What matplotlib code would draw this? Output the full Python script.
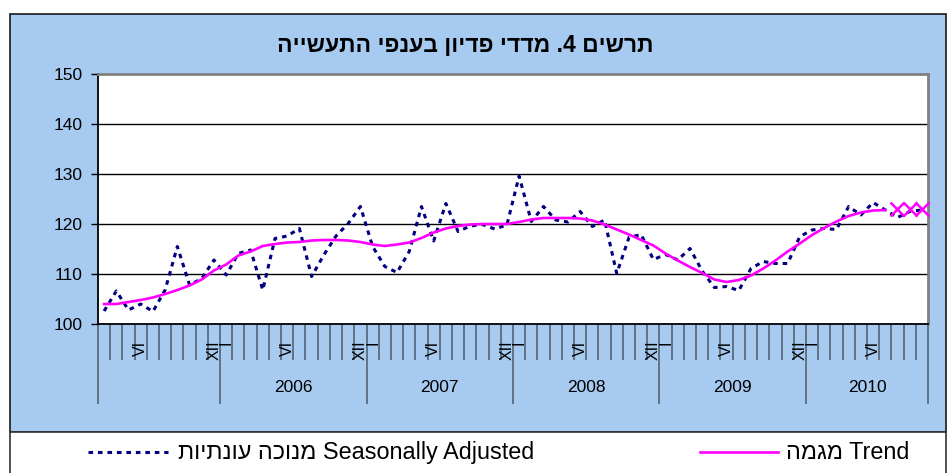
import matplotlib
matplotlib.use('Agg')
import matplotlib.pyplot as plt
import matplotlib.transforms as mtransforms
from matplotlib.lines import Line2D
from matplotlib.patches import Rectangle

plt.rcParams['font.family'] = ['Liberation Sans', 'DejaVu Sans']

# ---- data (monthly, Mar 2005 .. Oct 2010) ----
start_year, start_month = 2005, 3
sa_values = [102.6, 106.6, 102.8, 104.0, 102.5, 106.8, 115.5, 107.8, 109.1, 112.8,
             109.8, 114.1, 114.8, 106.8, 117.1, 117.6, 119.1, 109.5, 113.8, 117.6,
             120.1, 123.5, 115.5, 111.5, 110.3, 114.5, 123.5, 116.6, 124.1, 118.5,
             119.6, 119.9, 119.0, 119.8, 129.6, 120.5, 123.5, 120.8, 120.4, 122.5,
             119.5, 120.8, 110.1, 117.3, 117.9, 112.9, 113.9, 112.8, 115.1, 110.6,
             107.3, 107.5, 106.7, 111.1, 112.5, 112.1, 112.1, 117.5, 118.8, 119.1,
             118.9, 123.5, 121.8, 124.3, 122.8, 121.3, 122.5, 122.8]
trend_values = [104.0, 104.0, 104.4, 104.8, 105.3, 106.0, 106.8, 107.7, 108.9, 110.7,
                111.9, 113.7, 114.5, 115.6, 116.0, 116.3, 116.4, 116.7, 116.8, 116.8,
                116.7, 116.4, 115.9, 115.6, 115.9, 116.3, 117.2, 118.3, 119.1, 119.6,
                119.9, 120.0, 120.0, 120.0, 120.4, 120.9, 121.2, 121.2, 121.2, 121.1,
                120.7, 119.9, 118.9, 117.9, 116.8, 115.7, 114.1, 112.7, 111.4, 110.2,
                108.9, 108.4, 108.8, 109.7, 111.1, 112.7, 114.5, 116.1, 117.8, 119.2,
                120.5, 121.6, 122.3, 122.7, 122.8]
# last three months: provisional trend (x markers)
trend_prov_values = [122.9, 122.9, 123.0]

roman = ['I', 'II', 'III', 'IV', 'V', 'VI', 'VII', 'VIII', 'IX', 'X', 'XI', 'XII']
shown_months = [1, 6, 12]
y_ticks = [100, 110, 120, 130, 140, 150]

title_he = 'תרשים 4. מדדי פדיון בענפי התעשייה'
sa_label_he = 'מנוכה עונתיות'
sa_label_en = 'Seasonally Adjusted'
trend_label_he = 'מגמה'
trend_label_en = 'Trend'


def visual(s):
    # matplotlib has no bidi support, so write Hebrew in visual order
    return s[::-1]


months = []
y, m = start_year, start_month
for _ in range(len(sa_values)):
    months.append((y, m))
    m += 1
    if m > 12:
        m = 1
        y += 1

W, H = 949, 473
BLUE = '#A6CAF0'


def fx(px):
    return px / W


def fy(py):
    return 1 - py / H


fig = plt.figure(figsize=(W / 100, H / 100), dpi=100)
fig.patch.set_facecolor('white')

# blue chart panel and white legend strip
fig.add_artist(Rectangle((fx(10), fy(432)), 936 / W, 418 / H, transform=fig.transFigure,
                         facecolor=BLUE, edgecolor='#1a1a1a', lw=1.2, zorder=-2))
fig.add_artist(Rectangle((fx(10), fy(476)), 936 / W, 44 / H, transform=fig.transFigure,
                         facecolor='white', edgecolor='#333333', lw=1.2, zorder=-2))

ax = fig.add_axes([fx(98), fy(324), 830 / W, 250 / H])
ax.set_facecolor('white')

x = [i + 0.5 for i in range(len(sa_values))]
n_tr = len(trend_values)

for g in y_ticks[1:-1]:
    ax.axhline(g, color='black', lw=1.0, zorder=1)

ax.plot(x, sa_values, color='#000080', lw=2.2, linestyle=(0, (1.5, 1.6)), zorder=3)
ax.plot(x[:n_tr], trend_values, color='#FF00FF', lw=1.9, zorder=4)
ax.plot(x[n_tr:n_tr + len(trend_prov_values)], trend_prov_values, ls='none', marker='x',
        ms=9.5, mew=1.8, color='#FF00FF', zorder=4, clip_on=False)

ax.set_xlim(0, len(sa_values))
ax.set_ylim(y_ticks[0], y_ticks[-1])

# y axis
ax.set_yticks(y_ticks)
ax.set_yticklabels([str(t) for t in y_ticks], fontsize=12.5)
ax.tick_params(axis='y', direction='out', length=5, width=1, color='black', pad=6)

# x axis: month boundaries (minor) and year boundaries (major, long)
year_bounds = [0] + [i for i, (yy, mm) in enumerate(months) if mm == 1] + [len(months)]
ax.set_xticks(year_bounds)
ax.set_xticks(range(len(months) + 1), minor=True)
ax.set_xticklabels([])
ax.set_xticklabels([], minor=True)
ax.tick_params(axis='x', which='major', direction='out', length=57.6, width=1.1, color='#4f5b66')
ax.tick_params(axis='x', which='minor', direction='out', length=25.9, width=1.1, color='#4f5b66')

for s in ['left', 'bottom']:
    ax.spines[s].set_color('black')
    ax.spines[s].set_linewidth(1.3)
for s in ['top', 'right']:
    ax.spines[s].set_color('#808080')
    ax.spines[s].set_linewidth(2)

trans = mtransforms.blended_transform_factory(ax.transData, ax.transAxes)
for i, (yy, mm) in enumerate(months):
    if mm in shown_months:
        ax.text(i + 0.5, -0.066, roman[mm - 1], rotation=90, ha='center', va='top',
                fontsize=11.5, transform=trans)

for k in range(1, len(year_bounds) - 1):
    a, b = year_bounds[k], year_bounds[k + 1]
    ax.text((a + b) / 2, -0.252, str(months[a][0]), ha='center', va='center',
            fontsize=12.5, transform=trans)

# title
fig.text(fx(465), fy(45), visual(title_he), ha='center', va='center',
         fontsize=16.5, fontweight='bold')

# legend strip
ly = fy(452)
fig.add_artist(Line2D([fx(88), fx(168)], [ly, ly], color='#000080', lw=2.2,
                      linestyle=(0, (1.5, 1.6))))
fig.text(fx(178), ly, visual(sa_label_he) + ' ' + sa_label_en, ha='left', va='center',
         fontsize=16.8)
fig.add_artist(Line2D([fx(700), fx(778)], [ly, ly], color='#FF00FF', lw=1.9))
fig.text(fx(786), ly, visual(trend_label_he) + ' ' + trend_label_en, ha='left', va='center',
         fontsize=16.8)

fig.savefig('out.png', dpi=100)
